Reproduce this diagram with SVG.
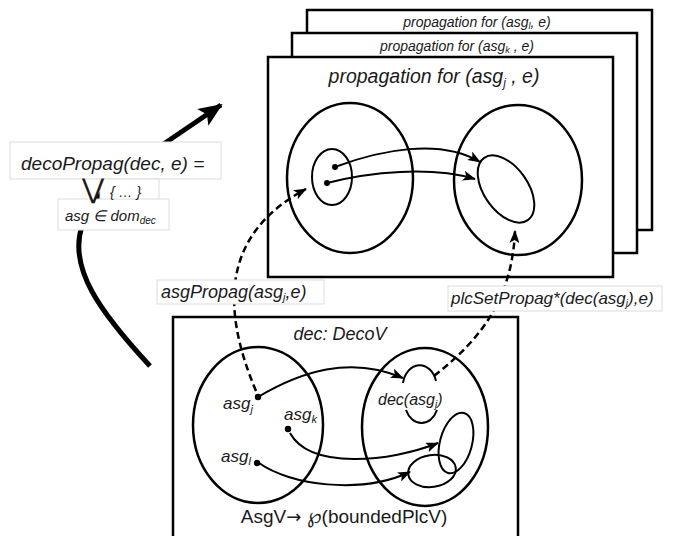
<svg xmlns="http://www.w3.org/2000/svg" width="676" height="536" viewBox="0 0 676 536">
  <style>
    .frame { fill: #fff; stroke: #000; stroke-width: 2.5; }
    .set { fill: none; stroke: #000; stroke-width: 2.5; }
    .sub { fill: none; stroke: #000; stroke-width: 2; }
    .flow { fill: none; stroke: #000; stroke-width: 2; marker-end: url(#head); }
    .dash { fill: none; stroke: #000; stroke-width: 2.5; stroke-dasharray: 7 4; marker-end: url(#head); }
    .dot { fill: #000; }
    .lbl { fill: #fff; stroke: #dcdcdc; stroke-width: 1; }
    text { font-family: "Liberation Sans", Arial, sans-serif; font-style: italic; fill: #1a1a1a; }
    .up { font-style: normal; }
    .sym { font-family: "DejaVu Sans", sans-serif; font-style: normal; }
  </style>
  <defs>
    <marker id="head" markerUnits="userSpaceOnUse" markerWidth="14" markerHeight="10" refX="12" refY="5" orient="auto">
      <path d="M0,0 L13,5 L0,10 L3,5 Z" fill="#000"/>
    </marker>
    <marker id="bighead" markerUnits="userSpaceOnUse" markerWidth="26" markerHeight="20" refX="22" refY="10" orient="auto">
      <path d="M0,0 L24,10 L0,20 L5,10 Z" fill="#000"/>
    </marker>
  </defs>

  <!-- big thick arrow on the left (drawn first, labels sit on top) -->
  <path d="M150,366 C 100,312 68,268 82,226 C 95,190 130,166 168,141 L 221,105" fill="none" stroke="#000" stroke-width="5" marker-end="url(#bighead)"/>

  <!-- stacked propagation frames -->
  <g id="frame-l">
    <rect class="frame" x="307" y="10" width="345" height="220"/>
    <text x="477" y="27" font-size="14" text-anchor="middle">propagation for (asg<tspan font-size="9" dy="2">l</tspan><tspan dy="-2">, e)</tspan></text>
  </g>
  <g id="frame-k">
    <rect class="frame" x="292" y="33" width="345" height="220"/>
    <text x="457" y="51" font-size="14" text-anchor="middle">propagation for (asg<tspan font-size="9" dy="2">k</tspan><tspan dy="-2"> , e)</tspan></text>
  </g>
  <g id="frame-j">
    <rect class="frame" x="268" y="57" width="345" height="220"/>
    <text x="434" y="83" font-size="19.5" text-anchor="middle">propagation for (asg<tspan font-size="12" dy="4">j</tspan><tspan dy="-4"> , e)</tspan></text>
  </g>

  <!-- sets inside the front frame -->
  <g id="prop-source">
    <ellipse class="set" cx="350" cy="178" rx="63" ry="75"/>
    <ellipse class="sub" cx="332" cy="177" rx="20" ry="28"/>
    <circle class="dot" cx="335" cy="167" r="3"/>
    <circle class="dot" cx="327" cy="183" r="3"/>
  </g>
  <g id="prop-target">
    <ellipse class="set" cx="518" cy="180" rx="64" ry="75"/>
    <ellipse class="sub" cx="506" cy="189" rx="38" ry="22" transform="rotate(55 506 189)"/>
  </g>

  <!-- dec: DecoV frame -->
  <g id="deco">
    <rect class="frame" x="173" y="317" width="345" height="225"/>
    <text x="340" y="340" font-size="18" text-anchor="middle">dec: DecoV</text>
    <text class="up" x="344" y="523" font-size="19" text-anchor="middle">AsgV<tspan class="sym" font-size="18">→ </tspan><tspan class="sym" font-size="21">℘</tspan>(boundedPlcV)</text>
  </g>
  <g id="asg-set">
    <ellipse class="set" cx="258" cy="425" rx="65" ry="78"/>
    <circle class="dot" cx="258" cy="397" r="3.2"/>
    <circle class="dot" cx="288" cy="429" r="3.2"/>
    <circle class="dot" cx="257" cy="463" r="3.2"/>
    <text x="223" y="409" font-size="17">asg<tspan font-size="11" dy="4">j</tspan></text>
    <text x="284" y="420" font-size="17">asg<tspan font-size="11" dy="3">k</tspan></text>
    <text x="221" y="462" font-size="17">asg<tspan font-size="11" dy="3">l</tspan></text>
  </g>
  <g id="plc-set">
    <ellipse class="set" cx="425" cy="427" rx="63" ry="79"/>
    <path class="sub" d="M403,383 A17,22 0 0 1 436,381"/>
    <path class="sub" d="M406,410 A17,22 0 0 0 437,410"/>
    <text x="378" y="405" font-size="16">dec(asg<tspan font-size="10" dy="3">j</tspan><tspan dy="-3">)</tspan></text>
    <ellipse class="sub" cx="456" cy="443" rx="16" ry="31" transform="rotate(15 456 443)"/>
    <ellipse class="sub" cx="432" cy="471" rx="24" ry="16" transform="rotate(-8 432 471)"/>
  </g>

  <!-- connectors -->
  <g id="connectors">
    <path class="flow" d="M335,167 C 380,150 440,138 480,162"/>
    <path class="flow" d="M327,183 C 370,172 430,166 475,179"/>
    <path class="flow" d="M258,397 C 300,372 350,355 403,378"/>
    <path class="flow" d="M290,433 C 310,470 390,462 438,443"/>
    <path class="flow" d="M259,463 C 290,485 360,495 410,472"/>
    <path class="dash" d="M256,391 C 222,310 220,235 306,189"/>
    <path class="dash" d="M434,376 C 480,340 512,300 515,231"/>
  </g>

  <!-- connector labels -->
  <g id="label-asgPropag">
    <rect class="lbl" x="157" y="280" width="167" height="24"/>
    <text x="161" y="298" font-size="18">asgPropag(asg<tspan font-size="11" dy="3">j</tspan><tspan dy="-3">,e)</tspan></text>
  </g>
  <g id="label-plcSetPropag">
    <rect class="lbl" x="448" y="286" width="214" height="25"/>
    <text x="451" y="304" font-size="17">plcSetPropag*(dec(asg<tspan font-size="10" dy="3">j</tspan><tspan dy="-3">),e)</tspan></text>
  </g>

  <!-- decoPropag definition -->
  <g id="decoPropag">
    <rect class="lbl" x="10" y="142" width="211" height="37"/>
    <text x="21" y="170" font-size="19">decoPropag(dec, e) =</text>
    <rect class="lbl" x="100" y="179" width="59" height="21"/>
    <rect class="lbl" x="58" y="199" width="111" height="31"/>
    <text class="sym" x="93" y="198" font-size="27" text-anchor="middle">⋁</text>
    <text x="110" y="197" font-size="14">{ … }</text>
    <text x="65" y="221" font-size="15">asg ∈ dom<tspan font-size="10" dy="3">dec</tspan></text>
  </g>
</svg>
